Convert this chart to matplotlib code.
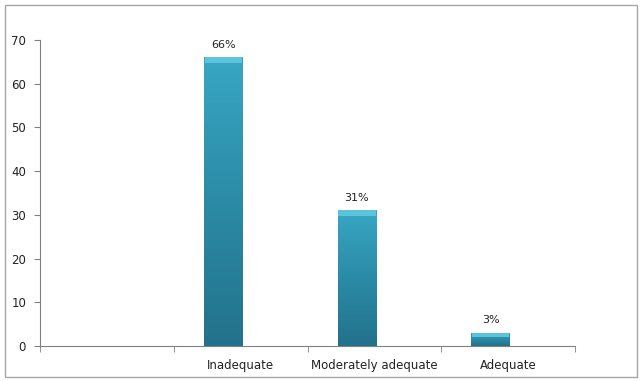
import numpy as np
import matplotlib
matplotlib.use("Agg")
import matplotlib.pyplot as plt
from matplotlib.patches import Rectangle
from matplotlib.colors import LinearSegmentedColormap

categories = ["", "Inadequate", "Moderately adequate", "Adequate"]
values = [None, 66, 31, 3]
labels = ["", "66%", "31%", "3%"]
yticks = [0, 10, 20, 30, 40, 50, 60, 70]

fig = plt.figure(figsize=(6.42, 3.81), dpi=100)
fig.patches.append(Rectangle((5/642, 4/381), 632/642, 372/381, transform=fig.transFigure,
                             fill=False, edgecolor="#a6a6a6", linewidth=1.0))
ax = fig.add_axes([40/642, 35/381, 535/642, 306/381])

x = np.arange(len(categories))
offset = -0.13
width = 0.29
cmap = LinearSegmentedColormap.from_list("teal", ["#38a6c3", "#2b8ba6", "#23728b"])
for xi, v, lab in zip(x, values, labels):
    if v is None:
        continue
    bars = ax.bar(xi + offset, v, width=width, color="#2b8aa5", edgecolor="none", zorder=2)
    b = bars[0]
    grad = np.linspace(0, 1, 100).reshape(-1, 1)
    im = ax.imshow(grad, cmap=cmap, aspect="auto", zorder=3,
                   extent=(b.get_x(), b.get_x() + b.get_width(), 0, v), origin="upper")
    im.set_clip_path(b)
    cap = min(1.2, v * 0.35)
    ax.bar(xi + offset, cap, bottom=v - cap, width=width * 0.96, color="#5cc3dd",
           edgecolor="none", zorder=4)
    ax.text(xi + offset, v + 1.8, lab, ha="center", va="bottom", fontsize=8,
            color="#222222", family="DejaVu Sans")

ax.set_xlim(-0.5, len(categories) - 0.5)
ax.set_ylim(0, 70)
ax.set_yticks(yticks)
ax.set_yticklabels([str(t) for t in yticks], fontsize=8.5, color="#222222")
ax.set_xticks(x)
ax.set_xticklabels(categories, fontsize=8.5, color="#222222")
ax.set_xticks(np.arange(len(categories) + 1) - 0.5, minor=True)
ax.tick_params(axis="x", which="major", length=0, pad=9)
ax.tick_params(axis="x", which="minor", length=4, direction="out", color="#808080")
ax.tick_params(axis="y", length=4, direction="out", color="#808080", pad=6)
for s in ["top", "right"]:
    ax.spines[s].set_visible(False)
for s in ["left", "bottom"]:
    ax.spines[s].set_color("#808080")
    ax.spines[s].set_linewidth(0.8)
ax.set_facecolor("none")

fig.savefig("out.png", dpi=100)
